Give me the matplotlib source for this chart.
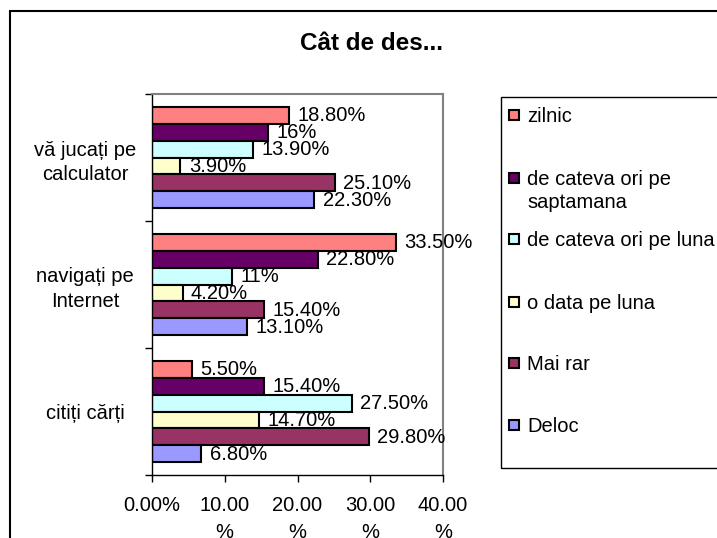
import matplotlib.pyplot as plt
import numpy as np
from matplotlib.patches import Rectangle

plt.rcParams['font.family'] = ['Liberation Sans', 'DejaVu Sans']

# categories from bottom to top
categories = ['citiți cărți', 'navigați pe\nInternet', 'vă jucați pe\ncalculator']
series = ['zilnic', 'de cateva ori pe saptamana', 'de cateva ori pe luna',
          'o data pe luna', 'Mai rar', 'Deloc']
colors = ['#FF8080', '#660066', '#CCFFFF', '#FFFFCC', '#993366', '#9999FF']

# values per series, in category order (citiți, navigați, vă jucați)
zilnic = [5.5, 33.5, 18.8]
saptamana = [15.4, 22.8, 16.0]
luna = [27.5, 11.0, 13.9]
o_data = [14.7, 4.2, 3.9]
mai_rar = [29.8, 15.4, 25.1]
deloc = [6.8, 13.1, 22.3]
values = [zilnic, saptamana, luna, o_data, mai_rar, deloc]

# labels as printed on the chart
labels = [['5.50%', '33.50%', '18.80%'],
          ['15.40%', '22.80%', '16%'],
          ['27.50%', '11%', '13.90%'],
          ['14.70%', '4.20%', '3.90%'],
          ['29.80%', '15.40%', '25.10%'],
          ['6.80%', '13.10%', '22.30%']]

xticks = [0, 10, 20, 30, 40]
xticklabels = ['0.00%', '10.00\n%', '20.00\n%', '30.00\n%', '40.00\n%']

W, H = 717, 538
fig = plt.figure(figsize=(W / 100, H / 100), dpi=100)


def fx(px):
    return px / W


def fy(py):
    return 1 - py / H


# outer chart border (runs off the right and bottom edges)
fig.patches.append(Rectangle((fx(10), fy(560)), fx(740) - fx(10), fy(11) - fy(560),
                             transform=fig.transFigure, fill=False,
                             edgecolor='black', lw=1.5, clip_on=False))

ax = fig.add_axes([fx(152), fy(475), fx(443) - fx(152), fy(94) - fy(475)])

h = 1 / 7.5
y = np.arange(len(categories))
for j, (vals, col) in enumerate(zip(values, colors)):
    pos = y + (2.5 - j) * h
    ax.barh(pos, vals, height=h, color=col, edgecolor='black', lw=1.5)
    for p, v, lab in zip(pos, vals, labels[j]):
        ax.annotate(lab, (v, p), xytext=(6, -0.5), textcoords='offset points',
                    ha='left', va='center', fontsize=14.5)

ax.set_xlim(0, 40)
ax.set_ylim(-0.5, 2.5)
ax.set_xticks(xticks)
ax.set_xticklabels(xticklabels, fontsize=14.5, linespacing=1.55)
ax.tick_params(axis='x', length=5, width=1, pad=10)

ax.set_yticks([-0.5, 0.5, 1.5, 2.5])
ax.set_yticklabels([])
ax.tick_params(axis='y', which='major', length=5, width=1)
ax.set_yticks(y, minor=True)
ax.set_yticklabels(categories, minor=True, fontsize=14.5, ha='center',
                   multialignment='center', linespacing=1.35)
ax.tick_params(axis='y', which='minor', length=0, pad=48)

for s in ['top', 'right']:
    ax.spines[s].set_color('#808080')
    ax.spines[s].set_linewidth(1.5)
for s in ['left', 'bottom']:
    ax.spines[s].set_color('black')
    ax.spines[s].set_linewidth(1)

fig.text(fx(371), fy(43), 'Cât de des...', ha='center', va='center',
         fontsize=17.5, fontweight='bold')

# legend drawn by hand to match the Excel layout
fig.patches.append(Rectangle((fx(501), fy(468)), fx(740) - fx(501), fy(97) - fy(468),
                             transform=fig.transFigure, fill=False,
                             edgecolor='black', lw=1, clip_on=False))
legend_rows = [115, 178, 239, 302, 363, 425]
legend_text = ['zilnic', 'de cateva ori pe\nsaptamana', 'de cateva ori pe luna',
               'o data pe luna', 'Mai rar', 'Deloc']
for row, txt, col in zip(legend_rows, legend_text, colors):
    fig.patches.append(Rectangle((fx(509), fy(row + 5)), fx(10), 10 / H,
                                 transform=fig.transFigure, facecolor=col,
                                 edgecolor='black', lw=1.5))
    fig.text(fx(527), fy(row - 8), txt, ha='left', va='top',
             fontsize=14.5, linespacing=1.3)

fig.savefig('out.png', dpi=100)
